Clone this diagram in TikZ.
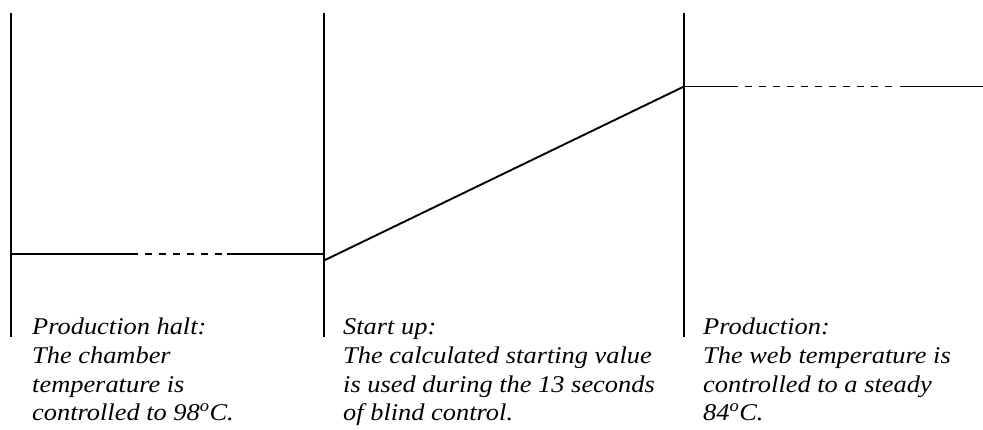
\documentclass[tikz,border=0pt]{standalone}
\usepackage{fontspec}
\setmainfont{Liberation Serif}[FakeStretch=1.1]
\begin{document}
\begin{tikzpicture}[x=1pt,y=1pt,
  divider/.style={line width=2.2pt},
  level/.style={line width=1.9pt},
  dashlevel/.style={line width=1.9pt, dash pattern=on 7pt off 7pt},
  caption/.style={anchor=base west, inner sep=0pt, align=left,
    font=\fontsize{24}{28.7}\selectfont\itshape}]
\useasboundingbox (0,0) rectangle (983,430);
% dividers
\coordinate (d1t) at (11,417); \coordinate (d1b) at (11,93);
\coordinate (d2t) at (324,417); \coordinate (d2b) at (324,93);
\coordinate (d3t) at (684,417); \coordinate (d3b) at (684,93);
\draw[divider] (d1t) -- (d1b);
\draw[divider] (d2t) -- (d2b);
\draw[divider] (d3t) -- (d3b);
% halt level
\coordinate (h0) at (11,176); \coordinate (h1) at (138,176);
\coordinate (h2) at (145,176); \coordinate (h3) at (222,176);
\coordinate (h4) at (227,176); \coordinate (h5) at (324,176);
\draw[level] (h0) -- (h1);
\draw[dashlevel] (h2) -- (h3);
\draw[level] (h4) -- (h5);
% ramp
\coordinate (r0) at (324,169.5); \coordinate (r1) at (684,343.5);
\draw[level] (r0) -- (r1);
% production level
\coordinate (p1) at (738,343.5);
\coordinate (p2) at (745,343.5); \coordinate (p3) at (892,343.5);
\coordinate (p4) at (900,343.5); \coordinate (p5) at (983,343.5);
\draw[level] (r1) -- (p1);
\draw[dashlevel] (p2) -- (p3);
\draw[level] (p4) -- (p5);
% captions (anchored at the baseline of the last line)
\node[caption] (c1) at (32,9) {Production halt:\\The chamber\\temperature is\\controlled to 98\textsuperscript{o}C.};
\node[caption] (c2) at (343,9) {Start up:\\The calculated starting value\\is used during the 13 seconds\\of blind control.};
\node[caption] (c3) at (703,9) {Production:\\The web temperature is\\controlled to a steady\\84\textsuperscript{o}C.};
\end{tikzpicture}
\end{document}
